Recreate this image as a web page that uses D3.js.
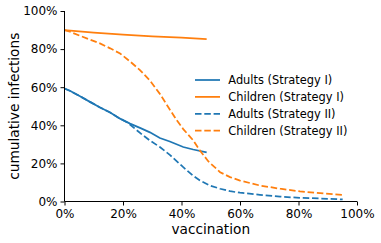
<!DOCTYPE html>
<html>
<head>
<meta charset="utf-8">
<script src="https://cdn.jsdelivr.net/npm/d3@7"></script>
<style>
  body { margin: 0; background: #fff; }
  svg { display: block; font-family: 'DejaVu Sans', sans-serif; }
</style>
</head>
<body>
<svg id="chart" width="381" height="243"></svg>
<script>
// --- data (percent) ---
const xTicks = [0, 20, 40, 60, 80, 100];
const yTicks = [0, 20, 40, 60, 80, 100];

const adultsIx = [0, 2, 5, 8.7, 12, 15.6, 19, 22.4, 26, 29.2, 32.6, 36, 40.6, 44, 48.6];
const adultsIy = [59.3, 58, 55.5, 52.3, 49.5, 46.7, 43.5, 40.9, 38.5, 36.3, 33.3, 31.5, 28.6, 27.3, 25.8];

const childIx = [0, 10, 20, 30, 40, 48.6];
const childIy = [90, 88.7, 87.6, 86.7, 86, 85.3];

const adultsIIx = [0, 2, 5, 8.7, 12, 15.6, 19, 21.8, 24, 26.9, 29.2, 32.6, 36, 40.6, 44, 46.3, 49.7, 53.2, 56.6, 60, 66.8, 73.7, 80.5, 87.4, 95.1];
const adultsIIy = [59.3, 58, 55.5, 52.3, 49.5, 46.7, 43.5, 41.2, 38.3, 34.7, 32, 28.6, 24.5, 18, 13.5, 11, 8.4, 6.7, 5.4, 4.6, 3.5, 2.6, 1.9, 1.6, 1.1];

const childIIx = [0, 1.9, 5.3, 12.1, 15.6, 19, 22.4, 25.8, 29.2, 32.6, 35.5, 38.4, 40.6, 44, 46.3, 49.2, 53.2, 56.6, 60, 66.8, 73.7, 80.5, 87.4, 95.1];
const childIIy = [90, 89.1, 87, 83, 80.4, 77.7, 73.5, 69, 63.5, 56.5, 49.5, 42.6, 38, 32.1, 26.8, 21, 15.4, 12.8, 11, 8.4, 6.7, 5.3, 4.4, 3.5];

const seriesNames = ["Adults (Strategy I)", "Children (Strategy I)", "Adults (Strategy II)", "Children (Strategy II)"];

// --- layout ---
const blue = "#1f77b4", orange = "#ff7f0e";
const dash = "6.5,2.8";
const svg = d3.select("#chart");
const x = d3.scaleLinear().domain([0, 100]).range([64.5, 357]);
const y = d3.scaleLinear().domain([0, 100]).range([201.5, 11]);

const series = [
  { xs: adultsIx, ys: adultsIy, color: blue, dash: null },
  { xs: childIx, ys: childIy, color: orange, dash: null },
  { xs: adultsIIx, ys: adultsIIy, color: blue, dash: dash },
  { xs: childIIx, ys: childIIy, color: orange, dash: dash }
];

const line = d3.line().x(d => x(d[0])).y(d => y(d[1]));

// lines (drawn below spines like matplotlib)
series.forEach(s => {
  svg.append("path")
    .datum(d3.zip(s.xs, s.ys))
    .attr("d", line)
    .attr("fill", "none")
    .attr("stroke", s.color)
    .attr("stroke-width", 1.75)
    .attr("stroke-dasharray", s.dash);
});

// axes
const fmt = d => d + "%";
const xAxis = svg.append("g")
  .attr("transform", `translate(0,${y(0)})`)
  .call(d3.axisBottom(x).tickValues(xTicks).tickFormat(fmt).tickSize(4).tickPadding(4));
const yAxis = svg.append("g")
  .attr("transform", `translate(${x(0)},0)`)
  .call(d3.axisLeft(y).tickValues(yTicks).tickFormat(fmt).tickSize(4).tickPadding(3));

[xAxis, yAxis].forEach(g => {
  g.selectAll(".domain").attr("stroke", "#000").attr("stroke-width", 1).attr("d",
    g === xAxis ? `M${x(0)},0H${x(100)}` : `M0,${y(100)}V${y(0)}`);
  g.selectAll(".tick line").attr("stroke", "#000").attr("stroke-width", 1);
  g.selectAll(".tick text")
    .attr("fill", "#000")
    .style("font-family", "'DejaVu Sans', sans-serif")
    .style("font-size", "12px");
});

// axis labels
svg.append("text")
  .attr("x", (x(0) + x(100)) / 2)
  .attr("y", 234)
  .attr("text-anchor", "middle")
  .style("font-size", "13.7px")
  .text("vaccination");

svg.append("text")
  .attr("transform", `translate(19,${(y(0) + y(100)) / 2}) rotate(-90)`)
  .attr("text-anchor", "middle")
  .style("font-size", "13.7px")
  .text("cumulative infections");

// legend
const legY = [80, 96.9, 113.8, 130.7];
series.forEach((s, i) => {
  svg.append("line")
    .attr("x1", 195).attr("x2", 220)
    .attr("y1", legY[i]).attr("y2", legY[i])
    .attr("stroke", s.color)
    .attr("stroke-width", 1.75)
    .attr("stroke-dasharray", s.dash);
  svg.append("text")
    .attr("x", 228.3)
    .attr("y", legY[i] + 4.1)
    .style("font-size", "11.4px")
    .text(seriesNames[i]);
});
</script>
</body>
</html>
